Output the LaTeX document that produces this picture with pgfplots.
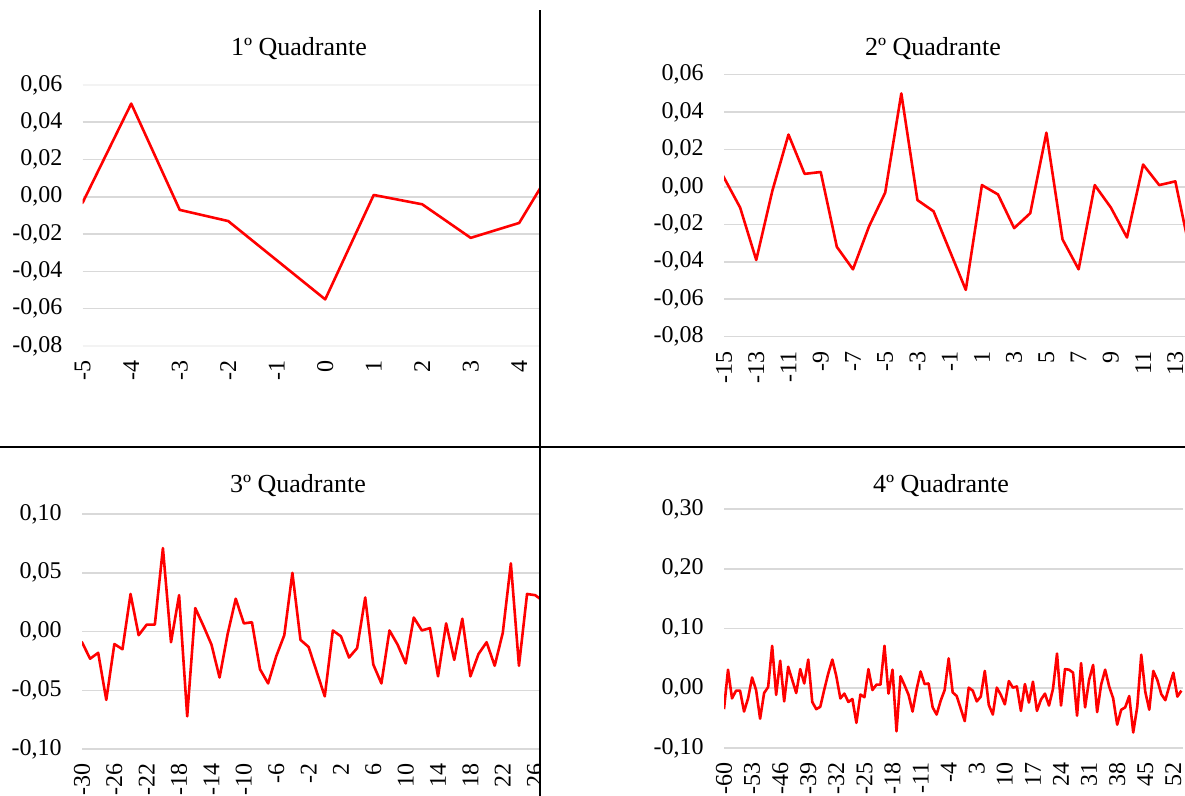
\documentclass[border=0pt]{standalone}
\usepackage{fontspec}
\setmainfont{Liberation Serif}
\usepackage{pgfplots}
\pgfplotsset{compat=1.18}
\usepackage{pgfplotstable}
\definecolor{gridgray}{HTML}{D9D9D9}
\definecolor{lightgrid}{HTML}{F3F3F3}
\definecolor{linered}{HTML}{FF0000}

\pgfplotstableread{
x y
-60 -0.035
-59 0.031
-58 -0.017
-57 -0.004
-56 -0.004
-55 -0.039
-54 -0.017
-53 0.018
-52 -0.003
-51 -0.051
-50 -0.008
-49 0.002
-48 0.071
-47 -0.011
-46 0.046
-45 -0.022
-44 0.036
-43 0.014
-42 -0.008
-41 0.032
-40 0.008
-39 0.048
-38 -0.023
-37 -0.035
-36 -0.031
-35 -0.002
-34 0.025
-33 0.048
-32 0.020
-31 -0.017
-30 -0.009
-29 -0.023
-28 -0.018
-27 -0.058
-26 -0.0105
-25 -0.015
-24 0.032
-23 -0.003
-22 0.006
-21 0.006
-20 0.071
-19 -0.009
-18 0.031
-17 -0.072
-16 0.020
-15 0.005
-14 -0.011
-13 -0.039
-12 -0.002
-11 0.028
-10 0.007
-9 0.008
-8 -0.032
-7 -0.044
-6 -0.021
-5 -0.003
-4 0.050
-3 -0.007
-2 -0.013
-1 -0.034
0 -0.055
1 0.001
2 -0.004
3 -0.022
4 -0.014
5 0.029
6 -0.028
7 -0.044
8 0.001
9 -0.011
10 -0.027
11 0.012
12 0.001
13 0.003
14 -0.038
15 0.007
16 -0.024
17 0.011
18 -0.038
19 -0.019
20 -0.009
21 -0.029
22 -0.001
23 0.058
24 -0.029
25 0.032
26 0.031
27 0.026
28 -0.046
29 0.042
30 -0.032
31 0.014
32 0.039
33 -0.040
34 0.006
35 0.031
36 0.003
37 -0.017
38 -0.061
39 -0.036
40 -0.032
41 -0.013
42 -0.074
43 -0.031
44 0.056
45 -0.006
46 -0.036
47 0.029
48 0.014
49 -0.010
50 -0.020
51 0.004
52 0.026
53 -0.014
54 -0.004
}\data

\pgfplotsset{quad/.style={
  scale only axis,
  anchor=south west,
  axis line style={draw=none},
  major tick length=0pt,
  tick style={draw=none},
  scaled y ticks=false,
  scaled x ticks=false,
  ymajorgrids,
  grid style={gridgray, line width=0.8pt},
  ticklabel style={font=\fontsize{12}{14}\selectfont},
  xticklabel style={rotate=90, anchor=east, inner sep=0pt, inner xsep=7pt},
  yticklabel style={anchor=east, inner sep=0pt, inner xsep=10pt},
  clip=true,
}}

\begin{document}
\begin{tikzpicture}
\useasboundingbox (0,0) rectangle (592.5pt,398pt);
\clip (0,0) rectangle (592.5pt,398pt);

% Quadrant 1
\begin{scope}
\clip (0,174.5pt) rectangle (270pt,398pt);
\begin{axis}[quad, at={(41.35pt,225pt)}, width=228.65pt, height=130.5pt,
  xmin=-5, xmax=4.43, ymin=-0.08, ymax=0.06,
  xtick={-5,-4,-3,-2,-1,0,1,2,3,4},
  xticklabels={-5,-4,-3,-2,-1,0,1,2,3,4},
  ytick={-0.06,-0.04,-0.02,0,0.02,0.04},
  yticklabels={{-0,06},{-0,04},{-0,02},{0,00},{0,02},{0,04}},
  extra y ticks={-0.08,0.06},
  extra y tick labels={{-0,08},{0,06}},
  extra y tick style={grid style={lightgrid, line width=0.8pt}},
]
\addplot[linered, line width=1.3pt, line join=round] table[x=x,y=y] {\data};
\end{axis}
\end{scope}
\node[anchor=base, font=\fontsize{13}{15}\selectfont] at (149.5pt,370.15pt) {1º Quadrante};

% Quadrant 2
\begin{scope}
\clip (270pt,174.5pt) rectangle (592.5pt,398pt);
\begin{axis}[quad, at={(362pt,229.65pt)}, width=230.5pt, height=131pt,
  xmin=-15, xmax=13.6, ymin=-0.08, ymax=0.06,
  xtick={-15,-13,-11,-9,-7,-5,-3,-1,1,3,5,7,9,11,13},
  xticklabels={-15,-13,-11,-9,-7,-5,-3,-1,1,3,5,7,9,11,13},
  ytick={-0.08,-0.06,-0.04,-0.02,0,0.02,0.04,0.06},
  yticklabels={{-0,08},{-0,06},{-0,04},{-0,02},{0,00},{0,02},{0,04},{0,06}},
]
\addplot[linered, line width=1.3pt, line join=round] table[x=x,y=y] {\data};
\end{axis}
\end{scope}
\node[anchor=base, font=\fontsize{13}{15}\selectfont] at (466.5pt,370.15pt) {2º Quadrante};

% Quadrant 3
\begin{scope}
\clip (0,0) rectangle (270pt,174.5pt);
\begin{axis}[quad, at={(41pt,23.35pt)}, width=229pt, height=117.65pt,
  xmin=-30, xmax=26.6, ymin=-0.10, ymax=0.10,
  xtick={-30,-26,-22,-18,-14,-10,-6,-2,2,6,10,14,18,22,26},
  xticklabels={-30,-26,-22,-18,-14,-10,-6,-2,2,6,10,14,18,22,26},
  ytick={-0.10,-0.05,0,0.05,0.10},
  yticklabels={{-0,10},{-0,05},{0,00},{0,05},{0,10}},
]
\addplot[linered, line width=1.3pt, line join=round] table[x=x,y=y] {\data};
\end{axis}
\end{scope}
\node[anchor=base, font=\fontsize{13}{15}\selectfont] at (149pt,151.65pt) {3º Quadrante};

% Quadrant 4
\begin{scope}
\clip (270pt,0) rectangle (592.5pt,174.5pt);
\begin{axis}[quad, at={(362pt,24pt)}, width=229.5pt, height=119.5pt,
  xmin=-60, xmax=54.4, ymin=-0.10, ymax=0.30,
  xtick={-60,-53,-46,-39,-32,-25,-18,-11,-4,3,10,17,24,31,38,45,52},
  xticklabels={-60,-53,-46,-39,-32,-25,-18,-11,-4,3,10,17,24,31,38,45,52},
  ytick={-0.10,0,0.10,0.20,0.30},
  yticklabels={{-0,10},{0,00},{0,10},{0,20},{0,30}},
]
\addplot[linered, line width=1.3pt, line join=round] table[x=x,y=y] {\data};
\end{axis}
\end{scope}
\node[anchor=base, font=\fontsize{13}{15}\selectfont] at (470.5pt,151.65pt) {4º Quadrante};

% dividers
\draw[black, line width=0.6pt] (270pt,0) -- (270pt,393pt);
\draw[black, line width=0.6pt] (0,174.5pt) -- (592.5pt,174.5pt);
\end{tikzpicture}
\end{document}
